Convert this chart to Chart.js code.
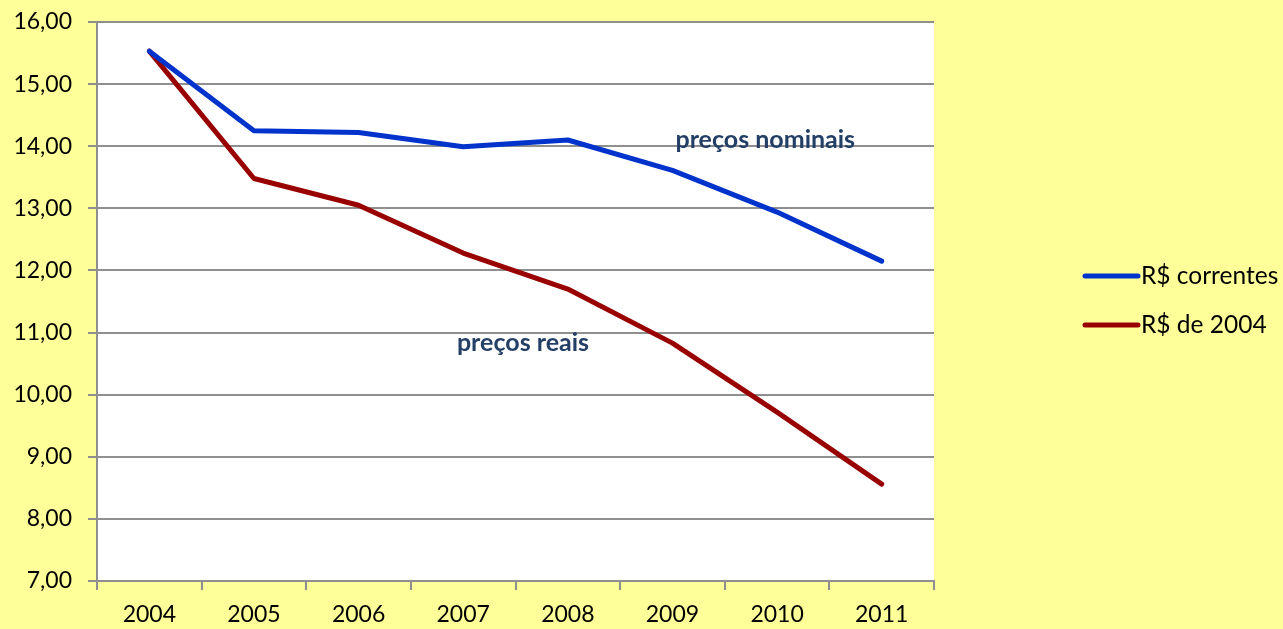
<!DOCTYPE html>
<html>
<head>
<meta charset="utf-8">
<script src="https://cdn.jsdelivr.net/npm/chart.js@4.4.1/dist/chart.umd.min.js"></script>
<style>
  html, body { margin: 0; padding: 0; background: #FFFF99; }
  #wrap { width: 1283px; height: 629px; }
</style>
</head>
<body>
<div id="wrap"><canvas id="precos" width="1283" height="629"></canvas></div>
<script>
// categories and series
const anos = ['2004', '2005', '2006', '2007', '2008', '2009', '2010', '2011'];
const correntes = [15.53, 14.25, 14.22, 13.99, 14.10, 13.61, 12.94, 12.15];
const de2004 = [15.53, 13.48, 13.05, 12.28, 11.70, 10.83, 9.72, 8.56];
const serieNomes = ['R$ correntes', 'R$ de 2004'];
const yTicks = [7, 8, 9, 10, 11, 12, 13, 14, 15, 16];

const FONT = 'Lato, "Open Sans", sans-serif';
const GRID = '#8f8f8f';

// white plot area on yellow page
const plotBg = {
    id: 'plotBg',
    beforeDraw(chart) {
        const { ctx, chartArea: a } = chart;
        ctx.save();
        ctx.fillStyle = '#FFFF99';
        ctx.fillRect(0, 0, chart.width, chart.height);
        ctx.fillStyle = '#ffffff';
        ctx.fillRect(a.left, a.top, a.right - a.left, a.bottom - a.top);
        ctx.restore();
    }
};

// text labels inside the plot + legend on the right
const extras = {
    id: 'extras',
    afterDraw(chart) {
        const { ctx, scales: { x, y } } = chart;
        ctx.save();
        ctx.fillStyle = '#243F66';
        ctx.font = 'bold 25px ' + FONT;
        ctx.textBaseline = 'middle';
        ctx.textAlign = 'left';
        ctx.fillText('preços nominais', x.getPixelForValue(5) + 3, y.getPixelForValue(14.1));
        ctx.fillText('preços reais', x.getPixelForValue(2.94), y.getPixelForValue(10.83));

        ctx.font = '24.5px ' + FONT;
        ctx.fillStyle = '#000';
        chart.data.datasets.forEach((ds, i) => {
            const ly = 276 + i * 49;
            ctx.strokeStyle = ds.borderColor;
            ctx.lineWidth = 5;
            ctx.lineCap = 'round';
            ctx.beginPath();
            ctx.moveTo(1085, ly);
            ctx.lineTo(1138, ly);
            ctx.stroke();
            ctx.fillText(ds.label, 1141, ly);
        });
        ctx.restore();
    }
};

new Chart(document.getElementById('precos'), {
    type: 'line',
    data: {
        labels: anos,
        datasets: [
            { label: serieNomes[0], data: correntes, borderColor: '#0033CC' },
            { label: serieNomes[1], data: de2004, borderColor: '#990000' }
        ]
    },
    options: {
        responsive: false,
        animation: false,
        layout: { padding: { top: 22, right: 349, left: 0, bottom: 0 } },
        elements: {
            line: { borderWidth: 5, tension: 0, borderCapStyle: 'round', borderJoinStyle: 'round' },
            point: { radius: 0 }
        },
        plugins: { legend: { display: false }, tooltip: { enabled: false } },
        scales: {
            x: {
                offset: true,
                grid: { offset: true, drawOnChartArea: false, drawTicks: true, tickLength: 9, color: GRID, lineWidth: 2 },
                border: { color: GRID, width: 2 },
                ticks: { color: '#000', font: { family: FONT, size: 23 }, padding: 11, maxRotation: 0 },
                afterFit(s) { s.height = 48; s.paddingLeft = 0; s.paddingRight = 0; }
            },
            y: {
                min: yTicks[0],
                max: yTicks[yTicks.length - 1],
                afterBuildTicks(s) { s.ticks = yTicks.map(v => ({ value: v })); },
                grid: { color: GRID, lineWidth: 2, tickLength: 9 },
                border: { color: GRID, width: 2 },
                ticks: {
                    color: '#000',
                    font: { family: FONT, size: 23 },
                    padding: 16,
                    callback: v => v.toFixed(2).replace('.', ',')
                },
                afterFit(s) { s.width = 97; s.paddingTop = 0; s.paddingBottom = 0; }
            }
        }
    },
    plugins: [plotBg, extras]
});
</script>
</body>
</html>
